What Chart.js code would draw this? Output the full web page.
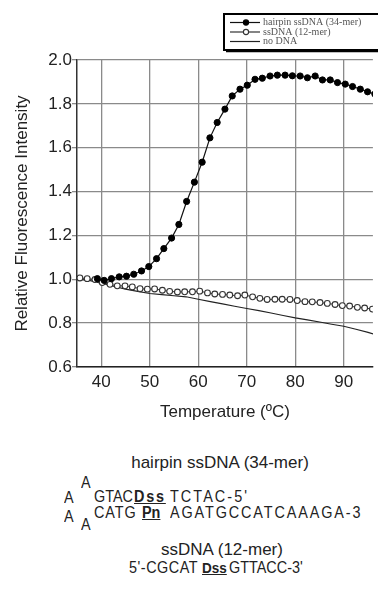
<!DOCTYPE html>
<html lang="en">
<head>
<meta charset="UTF-8">
<title>Relative fluorescence vs temperature</title>
<script src="https://cdn.jsdelivr.net/npm/chart.js"></script>
<style>
  body { margin: 0; background: #fff; font-family: "Liberation Sans", Arial, sans-serif; color: #222; }
  #wrap { position: relative; width: 378px; height: 604px; overflow: hidden; }
  #chart { position: absolute; left: 0; top: 0; }
  .t { position: absolute; white-space: nowrap; line-height: 1; }
  .head { font-size: 17px; transform: translateX(-50%); }
  .seq { font-size: 16px; transform: scaleX(0.9); transform-origin: 0 0; }
  .mark { font-weight: bold; text-decoration: underline; text-underline-offset: 1px; }
</style>
</head>
<body>
<div id="wrap">
  <canvas id="chart" width="378" height="430"></canvas>

  <div class="t head" style="left:220px; top:454px">hairpin ssDNA (34-mer)</div>

  <div class="t seq" style="left:64px; top:490px">A</div>
  <div class="t seq" style="left:81px; top:475px">A</div>
  <div class="t seq" style="left:94px; top:489px">GTAC</div>
  <div class="t seq mark" style="left:134px; top:489px; letter-spacing:2px">Dss</div>
  <div class="t seq" style="left:170px; top:489px; letter-spacing:2.3px">TCTAC-5'</div>

  <div class="t seq" style="left:64px; top:509px">A</div>
  <div class="t seq" style="left:81px; top:517px">A</div>
  <div class="t seq" style="left:94px; top:505px; letter-spacing:1px">CATG</div>
  <div class="t seq mark" style="left:142px; top:505px">Pn</div>
  <div class="t seq" style="left:170px; top:505px; letter-spacing:2.1px">AGATGCCATCAAAGA-3</div>

  <div class="t head" style="left:222px; top:541px">ssDNA (12-mer)</div>
  <div class="t seq" style="left:129px; top:560px; letter-spacing:0.6px">5'-CGCAT</div>
  <div class="t seq mark" style="left:202px; top:560px; font-size:15px">Dss</div>
  <div class="t seq" style="left:229px; top:560px">GTTACC-3'</div>
</div>

<script>
// hairpin ssDNA (34-mer), filled circles
const hairpinT = [39.2, 40.6, 42.1, 43.7, 45.2, 46.7, 48.3, 49.8, 51.4, 52.9, 54.5, 56.0, 57.6, 59.2, 60.8, 62.4, 63.9, 65.5, 67.0, 68.6, 70.1, 71.7, 73.2, 74.8, 76.3, 77.9, 79.4, 81.0, 82.5, 84.1, 85.6, 87.2, 88.7, 90.3, 91.8, 93.4, 94.9, 96.4];
const hairpinY = [1.003, 0.995, 1.003, 1.011, 1.014, 1.023, 1.038, 1.058, 1.094, 1.140, 1.188, 1.250, 1.355, 1.443, 1.534, 1.645, 1.715, 1.776, 1.836, 1.867, 1.885, 1.912, 1.917, 1.927, 1.931, 1.931, 1.928, 1.927, 1.919, 1.927, 1.909, 1.909, 1.897, 1.890, 1.879, 1.867, 1.855, 1.845];

// ssDNA (12-mer), open circles
const ss12T = [35.6, 37.1, 38.7, 40.2, 41.8, 43.3, 44.9, 46.4, 48.0, 49.5, 51.0, 52.6, 54.1, 55.7, 57.2, 58.8, 60.3, 61.9, 63.4, 65.0, 66.5, 68.1, 69.6, 71.2, 72.7, 74.2, 75.8, 77.3, 78.9, 80.4, 82.0, 83.5, 85.1, 86.6, 88.2, 89.7, 91.2, 92.8, 94.3, 95.9];
const ss12Y = [1.006, 1.003, 0.999, 0.985, 0.977, 0.970, 0.970, 0.965, 0.957, 0.955, 0.956, 0.950, 0.945, 0.942, 0.943, 0.943, 0.946, 0.938, 0.933, 0.931, 0.928, 0.925, 0.928, 0.920, 0.913, 0.908, 0.909, 0.909, 0.908, 0.903, 0.898, 0.897, 0.894, 0.890, 0.885, 0.880, 0.878, 0.872, 0.869, 0.864];

// no DNA, plain line
const noDnaT = [35, 37.5, 40, 42.5, 45, 47.5, 50, 52.5, 55, 57.5, 60, 62.5, 65, 67.5, 70, 72.5, 75, 77.5, 80, 82.5, 85, 87.5, 90, 92.5, 95, 97];
const noDnaY = [1.0, 0.995, 0.982, 0.968, 0.955, 0.945, 0.935, 0.930, 0.925, 0.920, 0.909, 0.898, 0.888, 0.877, 0.867, 0.857, 0.846, 0.835, 0.824, 0.815, 0.805, 0.795, 0.786, 0.772, 0.758, 0.745];

const xTicks = [40, 50, 60, 70, 80, 90];
const yTicks = [0.6, 0.8, 1.0, 1.2, 1.4, 1.6, 1.8, 2.0];

const pts = (xs, ys) => xs.map((x, i) => ({ x, y: ys[i] }));

// boxed legend in the top right corner, drawn from the datasets
const boxLegend = {
  id: 'boxLegend',
  afterDraw(chart) {
    const ctx = chart.ctx;
    ctx.save();
    ctx.fillStyle = '#fff';
    ctx.fillRect(224, 14, 160, 36);
    ctx.strokeStyle = '#000';
    ctx.lineWidth = 2;
    ctx.strokeRect(224, 14, 160, 36);
    ctx.lineWidth = 1.5;
    ctx.beginPath();
    ctx.moveTo(226, 51.5);
    ctx.lineTo(380, 51.5);
    ctx.stroke();

    ctx.font = '10px "Liberation Serif", serif';
    ctx.textBaseline = 'middle';
    chart.data.datasets.forEach((ds, i) => {
      const y = 22.5 + i * 9.5;
      ctx.strokeStyle = ds.borderColor;
      ctx.lineWidth = 1.2;
      ctx.beginPath();
      ctx.moveTo(230, y);
      ctx.lineTo(260, y);
      ctx.stroke();
      if (ds.pointRadius > 0) {
        ctx.beginPath();
        ctx.arc(246, y, 2.6, 0, Math.PI * 2);
        ctx.fillStyle = ds.pointBackgroundColor;
        ctx.fill();
        ctx.strokeStyle = ds.pointBorderColor;
        ctx.lineWidth = 1.1;
        ctx.stroke();
      }
      ctx.fillStyle = '#555';
      ctx.fillText(ds.label, 263, y);
    });
    ctx.restore();
  }
};

new Chart(document.getElementById('chart'), {
  type: 'line',
  data: {
    datasets: [
      {
        label: 'hairpin ssDNA (34-mer)',
        data: pts(hairpinT, hairpinY),
        borderColor: '#111',
        borderWidth: 1.2,
        pointRadius: 3.1,
        pointBackgroundColor: '#000',
        pointBorderColor: '#000',
        pointBorderWidth: 1
      },
      {
        label: 'ssDNA (12-mer)',
        data: pts(ss12T, ss12Y),
        borderColor: '#333',
        borderWidth: 1,
        pointRadius: 2.9,
        pointBackgroundColor: '#fff',
        pointBorderColor: '#333',
        pointBorderWidth: 1.1
      },
      {
        label: 'no DNA',
        data: pts(noDnaT, noDnaY),
        borderColor: '#222',
        borderWidth: 1.1,
        pointRadius: 0
      }
    ]
  },
  options: {
    responsive: false,
    animation: false,
    clip: { left: 0, top: 0, right: 0, bottom: 0 },
    layout: { padding: { top: 60, right: 0, bottom: 3, left: 0 } },
    plugins: { legend: { display: false }, tooltip: { enabled: false } },
    scales: {
      x: {
        type: 'linear',
        min: 35,
        max: 96,
        afterBuildTicks: s => { s.ticks = xTicks.map(v => ({ value: v })); },
        afterFit: s => { s.height = 60; },
        grid: { color: '#8a8a8a', lineWidth: 1.3, drawTicks: false },
        border: { color: '#222', width: 1.5 },
        ticks: { color: '#222', font: { family: 'Liberation Sans', size: 17 }, padding: 5 },
        title: {
          display: true,
          text: 'Temperature (ºC)',
          color: '#222',
          font: { family: 'Liberation Sans', size: 17 },
          padding: { top: 4, bottom: 4 }
        }
      },
      y: {
        min: 0.6,
        max: 2.0,
        afterBuildTicks: s => { s.ticks = yTicks.map(v => ({ value: v })); },
        afterFit: s => { s.width = 77; },
        grid: { color: '#8a8a8a', lineWidth: 1.3, tickLength: 5 },
        border: { color: '#333', width: 1.5 },
        ticks: {
          color: '#222',
          font: { family: 'Liberation Sans', size: 17 },
          padding: 0,
          callback: v => v.toFixed(1)
        },
        title: {
          display: true,
          text: 'Relative Fluorescence Intensity',
          color: '#222',
          font: { family: 'Liberation Sans', size: 17 },
          padding: { top: 12, bottom: 0 }
        }
      }
    }
  },
  plugins: [boxLegend]
});
</script>
</body>
</html>
